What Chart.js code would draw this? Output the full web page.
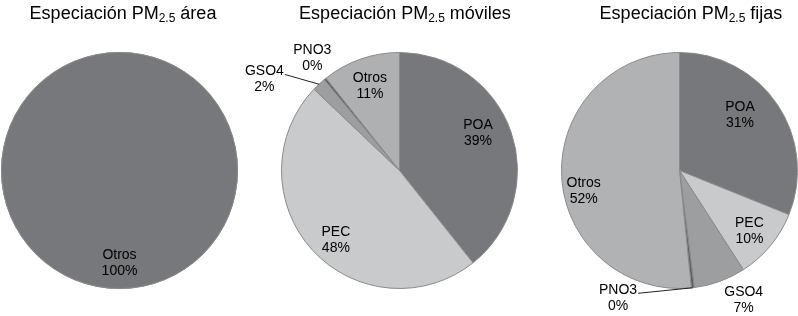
<!DOCTYPE html>
<html>
<head>
<meta charset="utf-8">
<script src="https://cdn.jsdelivr.net/npm/chart.js@4.4.0/dist/chart.umd.min.js"></script>
<style>
  html, body { margin: 0; padding: 0; background: #ffffff; }
  #wrap { position: relative; width: 798px; height: 316px; overflow: hidden; font-family: "Liberation Sans", Arial, sans-serif; }
  canvas { position: absolute; top: 0; }
  .title { position: absolute; top: 4px; width: 300px; text-align: center; font-size: 18px; line-height: 18px; color: #000; white-space: nowrap; }
  .title span { font-size: 12px; position: relative; top: 3px; }
</style>
</head>
<body>
<div id="wrap">
  <canvas id="c1" width="266" height="316" style="left:0px"></canvas>
  <canvas id="c2" width="296" height="316" style="left:236px"></canvas>
  <canvas id="c3" width="266" height="316" style="left:532px"></canvas>
  <div class="title" style="left:-27px">Especiación PM<span>2.5</span> área</div>
  <div class="title" style="left:255px">Especiación PM<span>2.5</span> móviles</div>
  <div class="title" style="left:541px">Especiación PM<span>2.5</span> fijas</div>
</div>
<script>
// ---- Data ----
const categoriasArea = ['Otros'];
const valoresArea = [100];

const categoriasMoviles = ['POA', 'PEC', 'GSO4', 'PNO3', 'Otros'];
const valoresMoviles = [39.3, 47.8, 1.9, 0.3, 10.7];

const categoriasFijas = ['POA', 'PEC', 'GSO4', 'PNO3', 'Otros'];
const valoresFijas = [31.1, 9.8, 7.1, 0.4, 51.6];

// ---- Styles ----
const coloresArea = ['#77787b'];
const coloresMoviles = ['#77787b', '#c9cacc', '#9d9ea0', '#5f6063', '#afb0b2'];
const coloresFijas = ['#77787b', '#c9cacc', '#9d9ea0', '#5f6063', '#b1b2b4'];

// label placement: radius fraction along slice mid-angle + pixel nudge, optional leader
const etiquetasArea = [{ f: 0.78, dx: 0, dy: 0 }];
const etiquetasMoviles = [
  { f: 0.75, dx: -5, dy: -8 },
  { f: 0.80, dx: 6, dy: 6 },
  { f: 1.38, dx: -24, dy: 28, leader: true },
  { f: 1.20, dx: 2, dy: -2 },
  { f: 0.76, dx: 0, dy: 0 }
];
const etiquetasFijas = [
  { f: 0.70, dx: -8, dy: -9 },
  { f: 0.78, dx: -1, dy: 2 },
  { f: 1.22, dx: 15, dy: -6 },
  { f: 1.09, dx: -76, dy: 0, leader: true },
  { f: 0.83, dx: 2, dy: 16 }
];

const labelPlugin = {
  id: 'sliceLabels',
  afterDatasetsDraw(chart, args, opts) {
    const ctx = chart.ctx;
    const meta = chart.getDatasetMeta(0);
    const data = chart.data.datasets[0].data;
    const labels = chart.data.labels;
    const total = data.reduce((a, b) => a + b, 0);
    const place = opts.place;
    ctx.save();
    if (opts.outline && meta.data.length) {
      const a = meta.data[0];
      ctx.beginPath();
      ctx.arc(a.x, a.y, a.outerRadius - 0.5, 0, Math.PI * 2);
      ctx.strokeStyle = '#8a8a8a';
      ctx.lineWidth = 1;
      ctx.stroke();
    }
    ctx.font = '14px "Liberation Sans", Arial, sans-serif';
    ctx.textAlign = 'center';
    ctx.textBaseline = 'middle';
    ctx.fillStyle = '#000';
    const lh = 16;
    meta.data.forEach((arc, i) => {
      const p = place[i];
      const mid = (arc.startAngle + arc.endAngle) / 2;
      const r = arc.outerRadius;
      const cx = arc.x + Math.cos(mid) * r * p.f + p.dx;
      const cy = arc.y + Math.sin(mid) * r * p.f + p.dy;
      const l1 = labels[i];
      const l2 = Math.round(data[i] / total * 100) + '%';
      const y1 = cy - lh / 2, y2 = cy + lh / 2;
      ctx.fillText(l1, cx, y1);
      ctx.fillText(l2, cx, y2);
      if (p.leader) {
        const w = ctx.measureText(l1).width;
        const sx = cx + w / 2 + 1;
        const sy = y1 + 3;
        const ex = arc.x + Math.cos(mid) * r;
        const ey = arc.y + Math.sin(mid) * r;
        ctx.beginPath();
        ctx.strokeStyle = '#222';
        ctx.lineWidth = 1;
        ctx.moveTo(sx, sy);
        ctx.lineTo(ex, ey);
        ctx.stroke();
      }
    });
    ctx.restore();
  }
};

function makePie(id, cats, vals, colors, place, padding, single) {
  return new Chart(document.getElementById(id), {
    type: 'pie',
    data: {
      labels: cats,
      datasets: [{
        data: vals,
        backgroundColor: colors,
        borderColor: '#8a8a8a',
        borderWidth: single ? 0 : 1
      }]
    },
    options: {
      responsive: false,
      maintainAspectRatio: false,
      animation: false,
      events: [],
      layout: { padding: padding },
      plugins: {
        legend: { display: false },
        tooltip: { enabled: false },
        title: { display: false },
        sliceLabels: { place: place, outline: !!single }
      }
    },
    plugins: [labelPlugin]
  });
}

makePie('c1', categoriasArea, valoresArea, coloresArea, etiquetasArea, { top: 52, bottom: 27, left: 1, right: 28 }, true);
makePie('c2', categoriasMoviles, valoresMoviles, coloresMoviles, etiquetasMoviles, { top: 52, bottom: 27, left: 45, right: 14 });
makePie('c3', categoriasFijas, valoresFijas, coloresFijas, etiquetasFijas, { top: 52, bottom: 27, left: 29, right: 0 });
</script>
</body>
</html>
